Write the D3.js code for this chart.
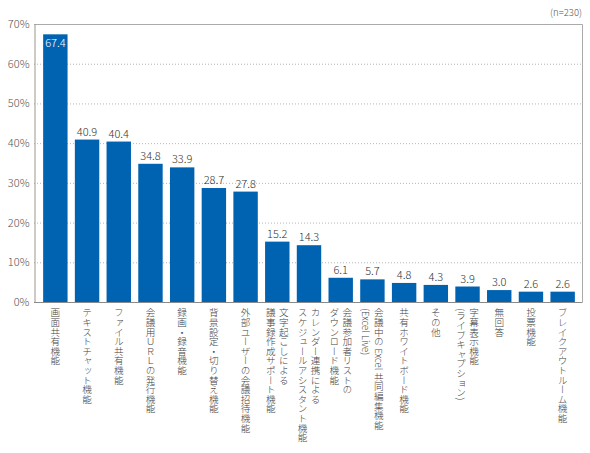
<!DOCTYPE html>
<html>
<head>
<meta charset="utf-8">
<script src="https://cdn.jsdelivr.net/npm/d3@7"></script>
<style>
  body { margin: 0; background: #fff; }
  svg { display: block; font-family: "Noto Sans CJK JP", "Noto Sans", sans-serif; font-weight: 300; }
</style>
</head>
<body>
<svg id="chart" width="590" height="453"></svg>
<script>
// categories, each one is a list of lines (first line = right column)
var categories = [
	["画面共有機能"],
	["テキストチャット機能"],
	["ファイル共有機能"],
	["会議用ＵＲＬの発行機能"],
	["録画・録音機能"],
	["背景設定・切り替え機能"],
	["外部ユーザーの会議招待機能"],
	["文字起こしによる", "議事録作成サポート機能"],
	["カレンダー連携による", "スケジュールアシスタント機能"],
	["会議参加者リストの", "ダウンロード機能"],
	["会議中の Excel 共同編集機能", "(Excel Live)"],
	["共有ホワイトボード機能"],
	["その他"],
	["字幕表示機能", "(ライブキャプション)"],
	["無回答"],
	["投票機能"],
	["ブレイクアウトルーム機能"]
];
var values = [67.4, 40.9, 40.4, 34.8, 33.9, 28.7, 27.8, 15.2, 14.3, 6.1, 5.7, 4.8, 4.3, 3.9, 3.0, 2.6, 2.6];
var yTicks = [0, 10, 20, 30, 40, 50, 60, 70];

var svg = d3.select("#chart");
var plotL = 34, plotR = 582, plotT = 24, plotB = 302;

var x = d3.scaleBand()
	.domain(d3.range(values.length))
	.range([39.5, 578.5])
	.paddingInner(0.23)
	.paddingOuter(0.115);

var y = d3.scaleLinear().domain([0, 70]).range([plotB, plotT]);

// grid lines
svg.append("g").selectAll("line")
	.data(yTicks.filter(function (d) { return d > 0 && d < 70; }))
	.enter().append("line")
	.attr("x1", plotL).attr("x2", plotR)
	.attr("y1", function (d) { return y(d) + 0.5; })
	.attr("y2", function (d) { return y(d) + 0.5; })
	.style("stroke", "#b5b5b5")
	.style("stroke-width", 1)
	.style("stroke-dasharray", "1,2");

// frame
svg.append("path")
	.attr("d", "M" + plotL + "," + (plotT + 0.5) + " H" + (plotR + 0.5) + " V" + plotB)
	.style("fill", "none").style("stroke", "#aaaaaa").style("stroke-width", 1);

// y axis
var yAxis = d3.axisLeft(y).tickValues(yTicks).tickSize(0).tickPadding(5)
	.tickFormat(function (d) { return d + "%"; });
var ga = svg.append("g").attr("transform", "translate(" + (plotL + 0.5) + ",0)").call(yAxis);
ga.select(".domain").style("stroke", "#9c9488");
ga.selectAll("text").style("font-size", "11px").style("fill", "#555")
	.style("font-family", "\"Noto Sans CJK JP\", sans-serif").style("font-weight", 300);

// bars
svg.append("g").selectAll("rect")
	.data(values)
	.enter().append("rect")
	.attr("x", function (d, i) { return x(i); })
	.attr("y", function (d) { return y(d); })
	.attr("width", x.bandwidth())
	.attr("height", function (d) { return plotB - y(d); })
	.style("fill", "#0063b2");

// baseline
svg.append("line")
	.attr("x1", plotL).attr("x2", plotR + 0.5)
	.attr("y1", plotB + 0.5).attr("y2", plotB + 0.5)
	.style("stroke", "#8a8a8a");

// value labels
svg.append("g").selectAll("text")
	.data(values)
	.enter().append("text")
	.attr("x", function (d, i) { return x(i) + x.bandwidth() / 2; })
	.attr("y", function (d, i) { return i === 0 ? y(d) + 13 : y(d) - 4; })
	.attr("text-anchor", "middle")
	.style("font-size", "11px")
	.style("fill", function (d, i) { return i === 0 ? "#fff" : "#333"; })
	.text(function (d) { return d.toFixed(1); });

// category labels (vertical)
var lineGap = 13;
categories.forEach(function (lines, i) {
	var cx = x(i) + x.bandwidth() / 2;
	var n = lines.length;
	lines.forEach(function (t, j) {
		var off = ((n - 1) / 2 - j) * lineGap;
		svg.append("text")
			.attr("x", cx + off)
			.attr("y", 308)
			.style("writing-mode", "vertical-rl")
			.style("font-size", "9.6px")
			.style("fill", "#444")
			.text(t);
	});
});

// n label
svg.append("text")
	.attr("x", plotR).attr("y", 16)
	.attr("text-anchor", "end")
	.style("font-size", "9.5px")
	.style("fill", "#555")
	.text("(n=230)");
</script>
</body>
</html>
